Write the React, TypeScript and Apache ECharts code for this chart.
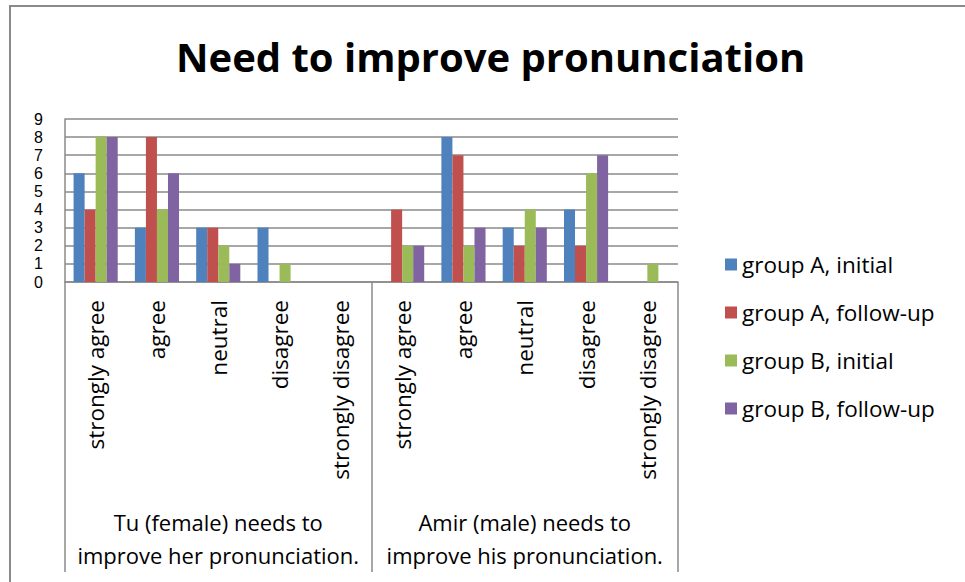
import React, { useEffect, useRef } from "react";
import * as echarts from "echarts";

const title = "Need to improve pronunciation";
const responses = ["strongly agree", "agree", "neutral", "disagree", "strongly disagree"];
const groups = [
  "Tu (female) needs to\nimprove her pronunciation.",
  "Amir (male) needs to\nimprove his pronunciation.",
];
const seriesNames = ["group A, initial", "group A, follow-up", "group B, initial", "group B, follow-up"];
const colors = ["#4F81BD", "#C0504D", "#9BBB59", "#8064A2"];

// Tu (5 responses) followed by Amir (5 responses)
const groupAInitial = [6, 3, 3, 3, 0, 0, 8, 3, 4, 0];
const groupAFollowUp = [4, 8, 3, 0, 0, 4, 7, 2, 2, 0];
const groupBInitial = [8, 4, 2, 1, 0, 2, 2, 4, 6, 1];
const groupBFollowUp = [8, 6, 1, 0, 0, 2, 3, 3, 7, 0];
const yTicks = [0, 1, 2, 3, 4, 5, 6, 7, 8, 9];

const seriesValues = [groupAInitial, groupAFollowUp, groupBInitial, groupBFollowUp];
const categoryKeys = groups.flatMap((g, gi) => responses.map((r) => gi + "|" + r));

const FONT = "'Open Sans', Lato, sans-serif";
const GRAY = "#8a8a8a";

export default function App() {
  const ref = useRef<HTMLDivElement>(null);
  useEffect(() => {
    if (!ref.current) return;
    const chart = echarts.init(ref.current, null, { renderer: "svg" });
    chart.setOption({
      animation: false,
      backgroundColor: "#ffffff",
      textStyle: { fontFamily: FONT },
      title: {
        text: title,
        left: 171,
        top: 31,
        textStyle: { fontFamily: FONT, fontSize: 40, fontWeight: "bold", color: "#000" },
      },
      legend: {
        orient: "vertical",
        left: 720,
        top: 248,
        icon: "rect",
        itemWidth: 12,
        itemHeight: 12,
        itemGap: 25,
        textStyle: { fontFamily: FONT, fontSize: 22.5, lineHeight: 20, color: "#000" },
        data: seriesNames,
      },
      grid: { left: 65, right: 287, top: 119, bottom: 300, containLabel: false },
      xAxis: [
        {
          type: "category",
          data: categoryKeys,
          position: "bottom",
          axisLine: { show: true, lineStyle: { color: GRAY, width: 1.5 } },
          axisTick: { show: false },
          axisLabel: {
            interval: 0,
            rotate: 90,
            margin: 18,
            fontSize: 22.5,
            color: "#000",
            fontFamily: FONT,
            formatter: (v: string) => v.split("|")[1],
          },
        },
        {
          type: "category",
          data: groups,
          position: "bottom",
          boundaryGap: true,
          axisLine: { show: false },
          axisTick: { show: true, length: 290, interval: 0, lineStyle: { color: GRAY, width: 1.5 } },
          axisLabel: {
            interval: 0,
            margin: 223,
            fontSize: 22,
            lineHeight: 33,
            color: "#000",
            fontFamily: FONT,
          },
        },
      ],
      yAxis: {
        type: "value",
        min: 0,
        max: 9,
        interval: 1,
        axisLine: { show: true, lineStyle: { color: GRAY, width: 1.5 } },
        axisTick: { show: false },
        splitLine: { show: true, lineStyle: { color: GRAY, width: 1.5 } },
        axisLabel: {
          margin: 22,
          fontSize: 16,
          lineHeight: 14,
          showMinLabel: true,
          showMaxLabel: true,
          hideOverlap: false,
          color: "#000",
          fontFamily: "'Liberation Sans', Arial, sans-serif",
          formatter: (v: number) => (yTicks.includes(v) ? String(v) : ""),
        },
      },
      series: seriesValues.map((vals, i) => ({
        name: seriesNames[i],
        type: "bar",
        xAxisIndex: 0,
        data: vals,
        barGap: "0%",
        barCategoryGap: "28%",
        itemStyle: { color: colors[i] },
      })),
      graphic: [
        {
          type: "rect",
          shape: { x: 10, y: 6, width: 1000, height: 1000 },
          style: { fill: "none", stroke: GRAY, lineWidth: 2 },
          silent: true,
        },
      ],
    });
    return () => chart.dispose();
  }, []);
  return (
    <div
      ref={ref}
      style={{ position: "absolute", left: 0, top: 0, width: 965, height: 582 }}
    />
  );
}
